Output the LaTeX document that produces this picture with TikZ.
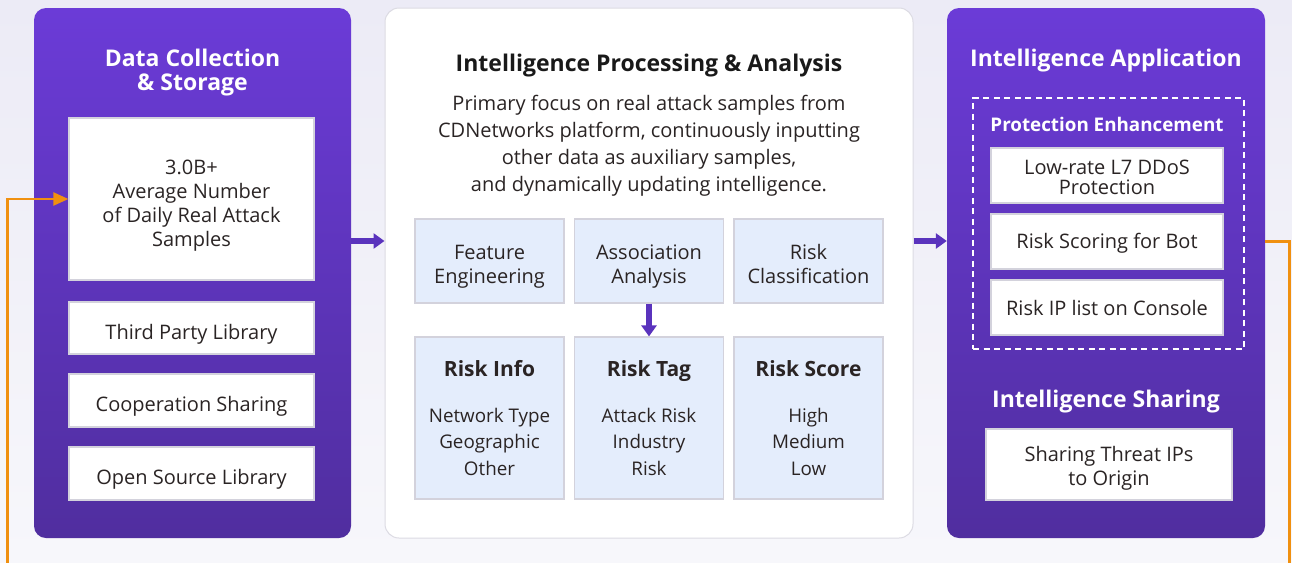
\documentclass[tikz,border=0pt]{standalone}
\usepackage{fontspec}
\setmainfont{Open Sans}
\usetikzlibrary{arrows.meta}

\definecolor{bgtop}{HTML}{ECEBF6}
\definecolor{bgbot}{HTML}{F7F7FB}
\definecolor{purpletop}{HTML}{6B3BD7}
\definecolor{purplebot}{HTML}{502E9F}
\definecolor{flowpurple}{HTML}{5A33BD}
\definecolor{looporange}{HTML}{F09010}
\definecolor{boxblue}{HTML}{E4EDFC}
\definecolor{boxline}{HTML}{D3D2DC}
\definecolor{ink}{HTML}{2A2424}

% invisible strut that pushes a box's text down
\newcommand{\lift}[1]{\rule{0pt}{#1}}
% invisible strut below a line without descenders
\newcommand{\sink}{\rule[-5pt]{0pt}{5pt}}

\begin{document}
\begin{tikzpicture}[x=1pt, y=-1pt,
    panel/.style={rounded corners=12pt, top color=purpletop, bottom color=purplebot,
      minimum width=317pt, minimum height=530pt, inner sep=0pt},
    whitebox/.style={draw=boxline, line width=1.2pt, fill=white, text=ink, align=center,
      inner sep=0pt, font=\fontsize{20}{24}\selectfont},
    bluebox/.style={whitebox, fill=boxblue, minimum width=149pt},
    paneltitle/.style={text=white, align=center, font=\fontsize{23}{25}\selectfont\bfseries},
    flow/.style={draw=flowpurple, line width=6pt, -{Triangle[length=11pt,width=15pt]}},
    loopline/.style={draw=looporange, line width=2.2pt, -{Triangle[length=15pt,width=13pt]}}]

    % Background
    \useasboundingbox (0,0) rectangle (1292,562);
    \clip (0,0) rectangle (1292,562);
    \shade[top color=bgtop, bottom color=bgbot] (0,0) rectangle (1292,562);

    % Panels
    \node[panel] (collect) at (192.5,273) {};
    \node[rounded corners=14pt, fill=white, draw=boxline!80, line width=1pt,
      minimum width=528pt, minimum height=530pt] (process) at (649,273) {};
    \node[panel, minimum width=318pt] (apply) at (1106,273) {};

    % Data collection
    \node[paneltitle] (collecttitle) at (192.5,73) {Data Collection\\[-1pt]\& Storage};
    \node[whitebox, minimum width=245pt, minimum height=162pt] (daily) at (191.5,199)
      {\lift{27pt}3.0B+\\Average Number\\of Daily Real Attack\\Samples};
    \node[whitebox, minimum width=245pt, minimum height=52pt] (thirdparty) at (191.5,328) {\lift{27pt}Third Party Library};
    \node[whitebox, minimum width=245pt, minimum height=53pt] (cooperation) at (191.5,400.5) {\lift{27pt}Cooperation Sharing};
    \node[whitebox, minimum width=245pt, minimum height=53pt] (opensource) at (191.5,473.5) {\lift{27pt}Open Source Library};

    % Processing and analysis
    \node[text=black!90, font=\fontsize{23}{25}\selectfont\bfseries] (processtitle) at (649,66)
      {Intelligence Processing \& Analysis};
    \node[text=ink, align=center, font=\fontsize{20}{27}\selectfont] (focus) at (649,146)
      {Primary focus on real attack samples from\\CDNetworks platform, continuously inputting\\other data as auxiliary samples,\\and dynamically updating intelligence.};
    \node[bluebox, minimum height=84pt] (feature) at (489.5,261) {\lift{25pt}Feature\\Engineering};
    \node[bluebox, minimum height=84pt] (assoc) at (649,261) {\lift{25pt}Association\\Analysis};
    \node[bluebox, minimum height=84pt] (classify) at (808.5,261) {\lift{25pt}Risk\\Classification\sink};
    \node[bluebox, minimum height=162pt, font=\fontsize{18.8}{26.5}\selectfont] (riskinfo) at (489.5,418)
      {{\fontsize{21}{26}\selectfont\bfseries Risk Info}\\[19pt]Network Type\\Geographic\\Other};
    \node[bluebox, minimum height=162pt, font=\fontsize{18.8}{26.5}\selectfont] (risktag) at (649,418)
      {{\fontsize{21}{26}\selectfont\bfseries Risk Tag}\\[19pt]Attack Risk\\Industry\\Risk};
    \node[bluebox, minimum height=162pt, font=\fontsize{18.8}{26.5}\selectfont] (riskscore) at (808.5,418)
      {{\fontsize{21}{26}\selectfont\bfseries Risk Score}\\[19pt]High\\Medium\\Low};

    % Application
    \node[paneltitle] (applytitle) at (1106,61) {Intelligence Application};
    \node[draw=white, dashed, dash pattern=on 6pt off 4.5pt, line width=1.3pt,
      minimum width=271pt, minimum height=251pt] (protect) at (1108.5,223.5) {};
    \node[text=white, font=\fontsize{18.8}{22}\selectfont\bfseries] (protecttitle) at (1107,124) {Protection Enhancement};
    \node[whitebox, minimum width=232pt, minimum height=55pt, font=\fontsize{20}{20}\selectfont] (lowrate) at (1107,175.5)
      {\lift{19pt}Low-rate L7 DDoS\\Protection};
    \node[whitebox, minimum width=232pt, minimum height=55pt] (botscore) at (1107,241.5) {\lift{19pt}Risk Scoring for Bot};
    \node[whitebox, minimum width=232pt, minimum height=55pt] (iplist) at (1107,307.5) {\lift{17pt}Risk IP list on Console};
    \node[paneltitle] (sharetitle) at (1106,402) {Intelligence Sharing};
    \node[whitebox, minimum width=246pt, minimum height=71pt] (threatips) at (1109,464.5)
      {\lift{23pt}Sharing Threat IPs\\to Origin};

    % Connectors
    \draw[flow] ([yshift=32pt]collect.east) -- ([yshift=32pt]process.west);
    \draw[flow] ([yshift=32pt]process.east) -- ([yshift=32pt]apply.west);
    \draw[flow] (assoc.south) -- (risktag.north);
    \draw[loopline] (apply.east |- botscore) -| (1289.5,600) -- (7.5,600) |- (daily.west);

\end{tikzpicture}
\end{document}
